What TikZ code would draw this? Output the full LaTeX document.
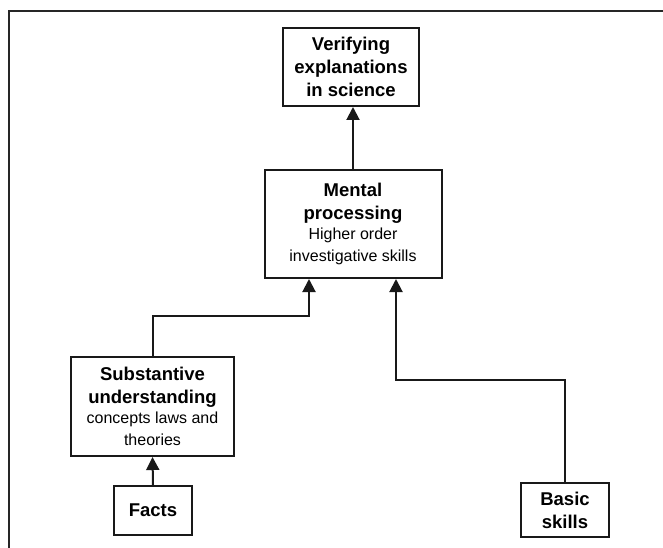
\documentclass[tikz,border=0pt]{standalone}
\usepackage{fontspec}
\setmainfont{Liberation Sans}
\usetikzlibrary{arrows.meta,calc}
\newcommand\subtxt[1]{{\fontsize{16}{18}\selectfont\mdseries #1}}
\tikzset{
  box/.style={draw=black!90, line width=2pt, inner sep=0pt, align=center, font=\fontsize{18.5}{23}\selectfont\bfseries},
  conn/.style={draw=black!90, line width=2pt, -{Triangle[width=13pt,length=13pt]}}
}
\begin{document}
\begin{tikzpicture}[x=1pt,y=-1pt]
\useasboundingbox (0,0) rectangle (663,548);
\draw[line width=2.5pt, black!85] (9,548) -- (9,11) -- (663,11);

\node[box, minimum width=136pt, minimum height=78pt] (ver) at (351,67)
  {Verifying\\explanations\\in science};
\node[box, minimum width=177pt, minimum height=108pt] (mp) at (353,224)
  {Mental\\processing\\[-3pt]\subtxt{Higher order}\\[-1pt]\subtxt{investigative skills}};
\node[box, minimum width=163pt, minimum height=99pt] (su) at (152.5,406.5)
  {Substantive\\understanding\\[-3pt]\subtxt{concepts laws and}\\[-1pt]\subtxt{theories}};
\node[box, minimum width=78pt, minimum height=49pt] (fa) at (153,510.5) {Facts};
\node[box, minimum width=88pt, minimum height=54pt] (bs) at (565,510) {Basic\\skills};

\draw[conn] (mp.north) -- (mp.north |- ver.south);
\draw[conn] (fa.north) -- (su.south);
\draw[conn] (su.north) -- ++(0,-40) -| ([xshift=-44pt]mp.south);
\draw[conn] (bs.north) -- ++(0,-102) -| ([xshift=43pt]mp.south);
\end{tikzpicture}
\end{document}
